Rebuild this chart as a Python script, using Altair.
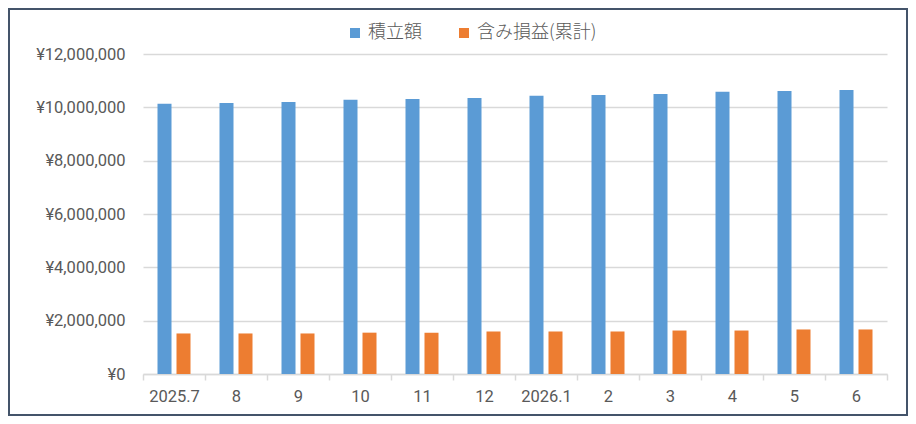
import altair as alt
import pandas as pd

months = ["2025.7", "8", "9", "10", "11", "12", "2026.1", "2", "3", "4", "5", "6"]
accumulated = [10130000, 10160000, 10200000, 10280000, 10310000, 10350000,
               10430000, 10460000, 10500000, 10580000, 10610000, 10650000]
unrealized = [1520000, 1520000, 1520000, 1550000, 1550000, 1590000,
              1590000, 1590000, 1630000, 1630000, 1670000, 1670000]
series_names = ["積立額", "含み損益(累計)"]
series_colors = ["#5B9BD5", "#ED7D31"]
y_ticks = [0, 2000000, 4000000, 6000000, 8000000, 10000000, 12000000]

rows = []
for m, a, u in zip(months, accumulated, unrealized):
    rows.append({"month": m, "series": series_names[0], "value": a})
    rows.append({"month": m, "series": series_names[1], "value": u})
df = pd.DataFrame(rows)

W, H = 744, 320
PL, PT, PR, PB = 135, 46, 21, 42

bars = alt.Chart(df).mark_bar().encode(
    x=alt.X("month:N", sort=months, title=None,
            scale=alt.Scale(paddingInner=0, paddingOuter=0),
            axis=alt.Axis(tickBand="extent", labelAngle=0, grid=False,
                          domainColor="#D9D9D9", domainWidth=1.5,
                          tickColor="#D9D9D9", tickWidth=1.5, tickSize=6,
                          labelPadding=8, labelFont="Roboto", labelFontSize=16.5,
                          labelColor="#595959")),
    xOffset=alt.XOffset("series:N", sort=series_names,
                        scale=alt.Scale(paddingInner=0.263, paddingOuter=0.763)),
    y=alt.Y("value:Q", title=None,
            scale=alt.Scale(domain=[0, 12000000], nice=False),
            axis=alt.Axis(values=y_ticks, domain=False, ticks=False, tickSize=0,
                          labelPadding=18, gridColor="#D9D9D9", gridWidth=1.5,
                          labelFont="Roboto", labelFontSize=16.5, labelColor="#595959",
                          labelExpr="'¥' + format(datum.value, ',')")),
    color=alt.Color("series:N", sort=series_names,
                    scale=alt.Scale(domain=series_names, range=series_colors),
                    legend=alt.Legend(title=None, orient="none", direction="horizontal",
                                      legendX=203, legendY=-30, padding=0,
                                      symbolType="square", symbolSize=100,
                                      symbolStrokeWidth=0, symbolOpacity=1,
                                      labelFont="Noto Sans CJK JP", labelFontSize=18,
                                      labelFontWeight=300,
                                      labelColor="#595959", labelOffset=4,
                                      columnPadding=33)),
)

frame = alt.Chart(alt.Data(values=[{}])).mark_rect(
    fill=None, stroke="#44546A", strokeWidth=2
).encode(
    x=alt.value(-PL + 1), x2=alt.value(W + PR - 1),
    y=alt.value(-PT + 1), y2=alt.value(H + PB - 1),
)

chart = alt.layer(bars, frame).properties(
    width=W, height=H,
    padding={"left": PL, "top": PT, "right": PR, "bottom": PB},
    autosize=alt.AutoSizeParams(type="none"),
    background="white",
).configure_view(stroke=None)

chart.save("out.html", embed_options={"renderer": "svg", "actions": False})
